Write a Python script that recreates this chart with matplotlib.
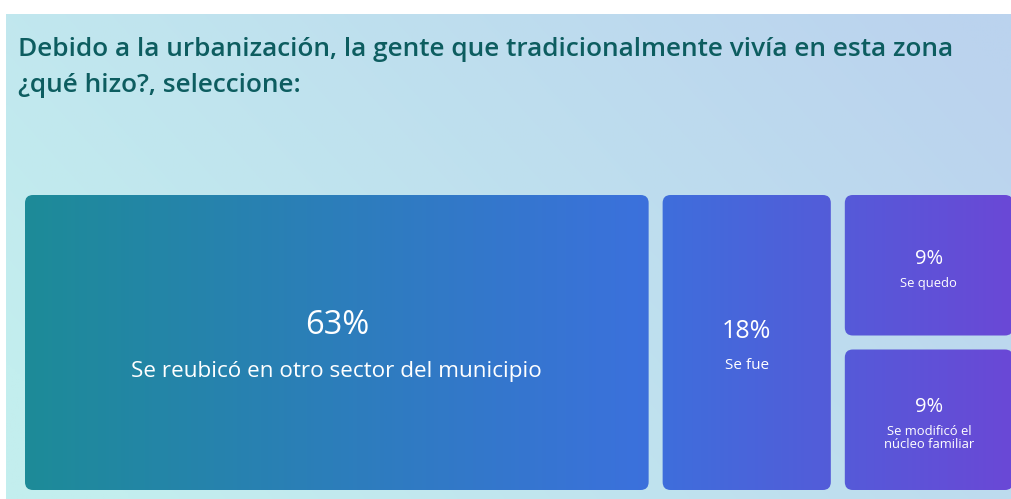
import numpy as np
import matplotlib.pyplot as plt
from matplotlib.patches import FancyBboxPatch
from matplotlib.colors import LinearSegmentedColormap

# chart data
title_lines = ["Debido a la urbanización, la gente que tradicionalmente vivía en esta zona",
               "¿qué hizo?, seleccione:"]
labels = ["Se reubicó en otro sector del municipio", "Se fue", "Se quedo",
          "Se modificó el\nnúcleo familiar"]
values = [63, 18, 9, 9]
pct_labels = ["63%", "18%", "9%", "9%"]
columns = [[0], [1], [2, 3]]   # which tiles share a column

W, H = 1011, 499
fig = plt.figure(figsize=(W / 100, H / 100), dpi=100, facecolor="white")
ax = fig.add_axes([0, 0, 1, 1])
ax.set_xlim(0, W)
ax.set_ylim(H, 0)
ax.axis("off")

FONT = "Open Sans"

# background gradient (cyan bottom-left -> light blue top-right)
bx0, by0 = 6, 14
xs = np.linspace(0, 1, 400)
ys = np.linspace(0, 1, 200)
xx, yy = np.meshgrid(xs, ys)
t = np.clip(0.8 * xx + 0.35 * (1 - yy) - 0.1, 0, 1)
c0 = np.array([0xc3, 0xee, 0xee]) / 255
c1 = np.array([0xbb, 0xd3, 0xee]) / 255
bg = c0[None, None, :] * (1 - t[..., None]) + c1[None, None, :] * t[..., None]
ax.imshow(bg, extent=[bx0, W, H, by0], origin="upper", aspect="auto",
          interpolation="bilinear", zorder=0)

# title, two lines
for k, ln in enumerate(title_lines):
    ax.text(18, 56 + 36 * k, ln, fontsize=18.9, fontweight="semibold", family=FONT,
            color="#0d5d60", ha="left", va="baseline", zorder=3)

# treemap layout
tx0, ty0, tw, th, gap = 25, 195, 1002, 309, 14
total = sum(values)
tile_cmap = LinearSegmentedColormap.from_list(
    "tiles", [(0, "#1d8b98"), (0.62, "#3b71dc"), (1, "#6a48d6")])
grad = np.linspace(0, 1, 1024)[None, :]

sizes = {0: (23.5, 16.2), 1: (18, 11), 2: (14.5, 9.4), 3: (14.5, 9.4)}
pct_gap = {0: 45, 1: 34, 2: 24, 3: 24}
line_step = 13

x = tx0
for col in columns:
    colw = tw * sum(values[i] for i in col) / total
    y = ty0
    for i in col:
        rowh = th * values[i] / sum(values[j] for j in col)
        rx, ry, rw, rh = x, y, colw - gap, rowh - gap
        patch = FancyBboxPatch((rx, ry), rw, rh,
                               boxstyle="round,pad=0,rounding_size=8",
                               facecolor="none", edgecolor="none", zorder=2)
        ax.add_patch(patch)
        im = ax.imshow(grad, cmap=tile_cmap, extent=[tx0, tx0 + tw - gap, ty0 + th, ty0],
                       aspect="auto", interpolation="bilinear", zorder=1)
        im.set_clip_path(patch)

        cx, cy = rx + rw / 2, ry + rh / 2
        lines = labels[i].split("\n")
        ps, ls = sizes[i]
        span = pct_gap[i] + line_step * (len(lines) - 1)
        ytop = cy - span / 2 + 6
        ax.text(cx, ytop, pct_labels[i], fontsize=ps, family=FONT, fontweight="medium",
                color="white", ha="center", va="center", zorder=3)
        for k, ln in enumerate(lines):
            ax.text(cx, ytop + pct_gap[i] + line_step * k, ln, fontsize=ls, family=FONT,
                    fontweight="medium", color="white", ha="center", va="center", zorder=3)
        y += rowh
    x += colw

fig.savefig("out.png", dpi=100, facecolor="white")
